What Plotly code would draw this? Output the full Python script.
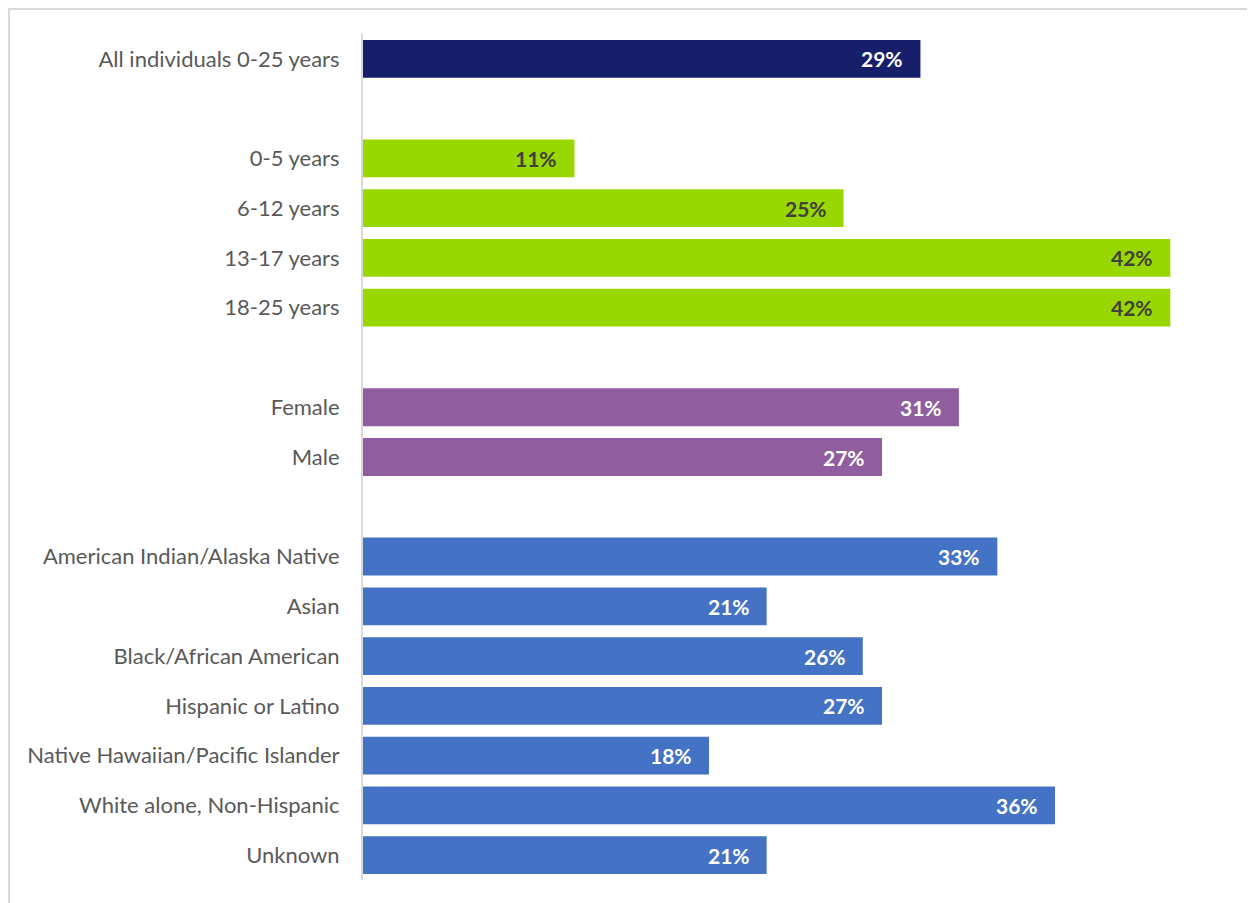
import plotly.graph_objects as go

categories = ["All individuals 0-25 years", " ",
              "0-5 years", "6-12 years", "13-17 years", "18-25 years", "  ",
              "Female", "Male", "   ",
              "American Indian/Alaska Native", "Asian", "Black/African American",
              "Hispanic or Latino", "Native Hawaiian/Pacific Islander",
              "White alone, Non-Hispanic", "Unknown"]
values = [29, None, 11, 25, 42, 42, None, 31, 27, None, 33, 21, 26, 27, 18, 36, 21]
groups = ["all", None, "age", "age", "age", "age", None, "sex", "sex", None,
          "race", "race", "race", "race", "race", "race", "race"]

bar_colors = {"all": "#171F6B", "age": "#98D800", "sex": "#905E9E", "race": "#4472C4"}
label_colors = {"all": "#FFFFFF", "age": "#404040", "sex": "#FFFFFF", "race": "#FFFFFF"}

# page has an 8px body margin, so figure is offset by 8px
W, H = 1247, 895
ml, mr, mt, mb = 355, 27, 26, 23

fig = go.Figure()
fig.add_trace(go.Bar(
    y=categories,
    x=values,
    orientation="h",
    marker=dict(color=[bar_colors[g] if g else "#FFFFFF" for g in groups],
                line=dict(width=0)),
    hoverinfo="skip",
    showlegend=False,
))

for c, v, g in zip(categories, values, groups):
    if v is None:
        continue
    fig.add_annotation(x=v, y=c, xref="x", yref="y", text=f"<b>{v}%</b>",
                       showarrow=False, xanchor="right", xshift=-15,
                       font=dict(family="Lato, Open Sans, sans-serif", size=21,
                                 color=label_colors[g]))

pw = W - ml - mr
ph = H - mt - mb
fig.add_shape(type="rect", xref="paper", yref="paper",
              x0=(1 - ml) / pw, x1=3, y0=-1, y1=(H - mb - 1) / ph,
              line=dict(color="#D9D9D9", width=2), fillcolor="rgba(0,0,0,0)", layer="below")

fig.update_layout(
    width=W, height=H,
    margin=dict(l=ml, r=mr, t=mt, b=mb),
    paper_bgcolor="white", plot_bgcolor="white",
    bargap=0.24,
    font=dict(family="Lato, Open Sans, sans-serif", size=22, color="#595959"),
    xaxis=dict(range=[0, 45], visible=False, fixedrange=True),
    yaxis=dict(categoryorder="array", categoryarray=categories, autorange="reversed",
               showline=True, linecolor="#D9D9D9", linewidth=2, showgrid=False,
               ticks="", ticklabelstandoff=17, zeroline=False,
               tickfont=dict(family="Lato, Open Sans, sans-serif", size=22, color="#595959")),
)

fig.write_html("out.html")
